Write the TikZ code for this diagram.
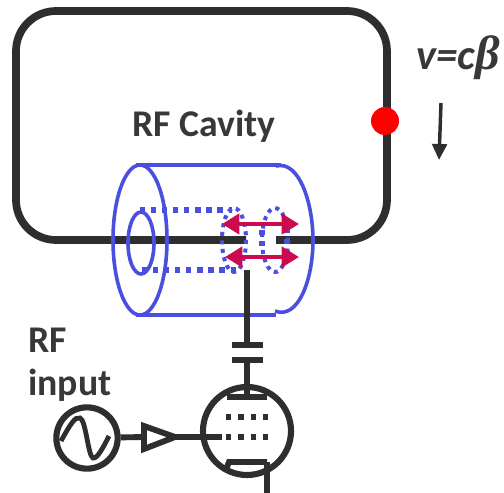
\documentclass[tikz,border=0pt]{standalone}
\usepackage{fontspec}
\setmainfont{Carlito}
\usetikzlibrary{arrows.meta,shapes.geometric}
\definecolor{ink}{HTML}{2E2E2E}
\definecolor{txt}{HTML}{383838}
\definecolor{cav}{HTML}{4A4FE0}
\definecolor{fld}{HTML}{CC0A50}
\newfontfamily\betafont{Liberation Serif}
\tikzset{
 x=0.75pt,y=-0.75pt,
 ring/.style={draw=ink,line width=5.8pt,rounded corners=30pt},
 wire/.style={draw=ink,line width=4.4pt},
 blue/.style={draw=cav,line width=2.7pt},
 bluedot/.style={draw=cav,line width=3.9pt,dash pattern=on 3.9pt off 4.4pt},
 bluedots/.style={draw=cav,line width=3pt,dash pattern=on 3pt off 3.4pt},
 field/.style={draw=fld,line width=3.6pt,{Triangle[length=13pt,width=15pt]}-{Triangle[length=13pt,width=15pt]}},
 dots/.style={draw=ink,line width=4pt,dash pattern=on 4pt off 5.2pt},
 lab/.style={font=\fontsize{28.3}{32}\selectfont\bfseries,text=txt,inner sep=0pt},
 tube/.style={circle,draw=ink,line width=4.6pt,minimum size=66pt,inner sep=0pt},
 src/.style={circle,draw=ink,line width=4.6pt,minimum size=46pt,inner sep=0pt},
 amp/.style={draw=ink,line width=4.4pt,line join=miter},
}
\begin{document}
\begin{tikzpicture}
\useasboundingbox (0,0) rectangle (504,493);
% ring
\coordinate (gapL) at (246,240);
\coordinate (gapR) at (276,240);
\draw[ring] (gapL) -- (16,240) -- (16,11) -- (387,11) -- (387,240) -- (gapR);
% cavity
\draw[blue] (140,240) ellipse[x radius=27,y radius=75];
\draw[blue] (141,243) ellipse[x radius=13,y radius=31];
\draw[blue] (136,165) -- (281,165);
\draw[blue] (136,315) -- (276,315);
\draw[blue] (276,166) .. controls (300,160) and (313,205) .. (313,240)
  .. controls (313,280) and (298,320) .. (275,311);
\draw[bluedot] (140,210) -- (232,210);
\draw[bluedot] (142,270) -- (240,270);
\draw[bluedots] (234,240) ellipse[x radius=12,y radius=32];
\draw[bluedots] (275,240) ellipse[x radius=13,y radius=32];
\draw[bluedot] (262,230) -- (262,252);
\draw[bluedot] (287,228) -- (287,252);
% field arrows
\draw[field] (222,224) -- (299,224);
\draw[field] (225,257) -- (299,257);
% bead and velocity
\node[circle,fill=red,minimum size=21pt,inner sep=0pt] (bead) at (385,121) {};
\coordinate (v1) at (441,103);
\coordinate (v2) at (439,160);
\draw[draw=ink,line width=2.6pt,-{Triangle[length=12pt,width=11pt]}] (v1) -- (v2);
% labels
\node[lab] (cavlab) at (204,126) {RF Cavity};
\node[lab,anchor=west] (rf) at (28,340) {RF};
\node[lab,anchor=west] (input) at (28,385) {input};
\node[inner sep=0pt,anchor=west,text=txt,font=\fontsize{32}{34}\selectfont\bfseries\itshape] (vel) at (416,58) {v=c{\betafont\bfseries\itshape\fontsize{36}{36}\selectfont β}};
% tube
\node[tube] (tb) at (247,431) {};
\node[src] (sg) at (87,438) {};
\draw[draw=ink,line width=3.6pt,line cap=butt] (61,441) .. controls (70,425) and (75,416) .. (80,418)
  .. controls (86,420) and (88,456) .. (93,458)
  .. controls (97,459) and (103,448) .. (109,436);
\coordinate (ampA) at (144,437);
\coordinate (ampB) at (175,437);
\draw[amp] (144,426) -- (144,449) -- (ampB) -- cycle;
\draw[wire] (sg) -- (ampA);
\coordinate (gridE) at (222,437);
\draw[wire] (ampB) -- (gridE);
% anode and capacitor
\coordinate (stemT) at (247,270);
\coordinate (capA) at (247,345);
\coordinate (capB) at (247,360);
\coordinate (anode) at (247,397);
\draw[wire] (stemT) -- (capA);
\draw[wire] (capB) -- (anode);
\draw[wire] (232,345) -- (263,345);
\draw[wire] (232,360) -- (263,360);
\draw[wire] (227,397) -- (267,397);
\draw[dots] (226,417) -- (268,417);
\draw[dots] (226,437) -- (268,437);
% cathode
\coordinate (cath) at (267,462);
\coordinate (out) at (267,493);
\draw[wire] (225,472) -- (229,462) -- (cath);
\draw[wire] (cath) -- (out);
\end{tikzpicture}
\end{document}
